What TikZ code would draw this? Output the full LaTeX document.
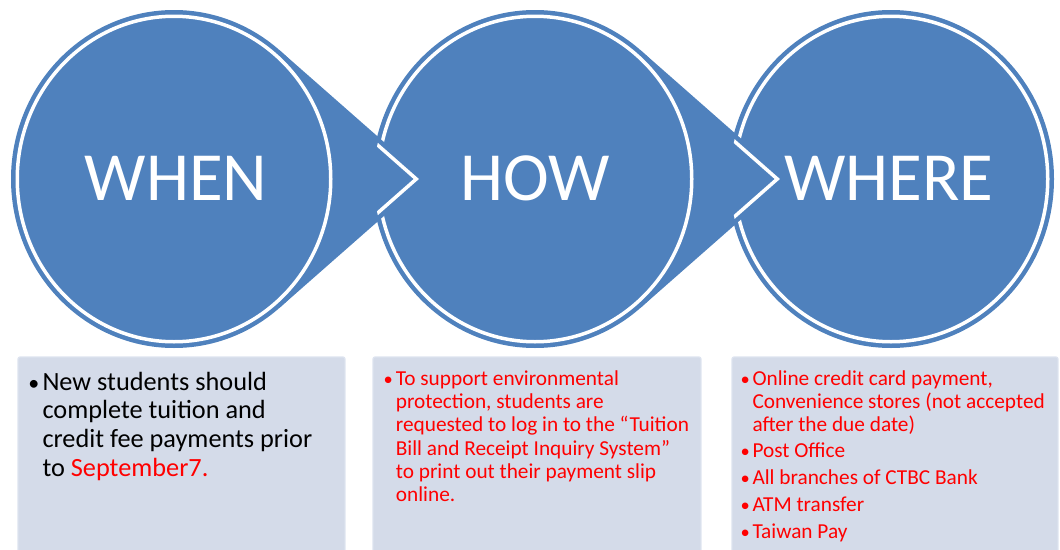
\documentclass[tikz,border=0pt]{standalone}
\usepackage{fontspec}
\setmainfont{Carlito}
\definecolor{cblue}{HTML}{4F81BD}
\definecolor{boxfill}{HTML}{D4DBE9}
\definecolor{boxedge}{HTML}{DDE3EF}
\definecolor{tred}{HTML}{FF0000}
\begin{document}
\begin{tikzpicture}[x=1pt,y=-1pt,
  disc/.style={fill=cblue},
  ring/.style={draw=white,line width=3.5pt},
  chev/.style={draw=white,line width=3.5pt,miter limit=10},
  wedgefill/.style={fill=cblue},
  panel/.style={fill=boxfill},
  paneledge/.style={draw=boxedge,line width=1.2pt,rounded corners=2pt},
  big/.style={text=white,font=\fontsize{69}{80}\selectfont,inner sep=0pt,anchor=base},
  txtA/.style={font=\fontsize{26.3}{30}\selectfont,inner sep=0pt,anchor=base west},
  bulA/.style={font=\fontsize{22}{26}\selectfont,inner sep=0pt,anchor=base east},
  txtB/.style={font=\fontsize{21.3}{25}\selectfont,inner sep=0pt,anchor=base west,text=tred},
  bulB/.style={font=\fontsize{18.5}{22}\selectfont,inner sep=0pt,anchor=base east,text=tred},
]
\useasboundingbox (0,0) rectangle (1060,549);
\clip (0,0) rectangle (1060,549);

\coordinate (c1) at (174,179);
\coordinate (c2) at (535,179);
\coordinate (c3) at (891,179);

% circle 3
\fill[disc] (c3) ellipse [x radius=163pt, y radius=169pt];
\draw[ring] (c3) ellipse [x radius=156.75pt, y radius=162.75pt];

% wedge of circle 2
\fill[wedgefill] (640.4,50.1) -- (787,179) -- (640.4,307.9) -- cycle;
\begin{scope}
  \clip (c3) ellipse [x radius=161pt, y radius=167pt];
  \draw[chev] (636.4,55.1) -- (777.3,179) -- (636.4,302.9);
\end{scope}

% circle 2
\fill[disc] (c2) ellipse [x radius=163pt, y radius=169pt];
\draw[ring] (c2) ellipse [x radius=156.75pt, y radius=162.75pt];

% wedge of circle 1
\fill[wedgefill] (279.4,50.1) -- (426,179) -- (279.4,307.9) -- cycle;
\begin{scope}
  \clip (c2) ellipse [x radius=161pt, y radius=167pt];
  \draw[chev] (275.4,55.1) -- (416.3,179) -- (275.4,302.9);
\end{scope}

% circle 1
\fill[disc] (c1) ellipse [x radius=163pt, y radius=169pt];
\draw[ring] (c1) ellipse [x radius=156.75pt, y radius=162.75pt];

% circle labels
\node[big] (when) at (176,200) {WHEN};
\node[big] (how) at (535,200) {HOW};
\node[big] (where) at (889,200) {WHERE};

% panels
\fill[panel] (18,357) rectangle (345,560);
\fill[panel] (373,357) rectangle (701,560);
\fill[panel] (732,357) rectangle (1058,560);
\draw[paneledge] (18,560) -- (18,357) -- (345,357) -- (345,560);
\draw[paneledge] (373,560) -- (373,357) -- (701,357) -- (701,560);
\draw[paneledge] (732,560) -- (732,357) -- (1058,357) -- (1058,560);

% panel 1 text
\node[bulA] (p1b) at (39.5,390) {•};
\node[txtA] (p1l1) at (42.3,390) {New students should};
\node[txtA] (p1l2) at (42.3,418.7) {complete tuition and};
\node[txtA] (p1l3) at (42.3,447.3) {credit fee payments prior};
\node[txtA] (p1l4) at (42.3,476) {to \textcolor{tred}{September7.}};

% panel 2 text
\node[bulB] (p2b) at (393,385) {•};
\node[txtB] (p2l1) at (395.7,385) {To support environmental};
\node[txtB] (p2l2) at (395.7,408.3) {protection, students are};
\node[txtB] (p2l3) at (395.7,431.7) {requested to log in to the “Tuition};
\node[txtB] (p2l4) at (395.7,455) {Bill and Receipt Inquiry System”};
\node[txtB] (p2l5) at (395.7,478.3) {to print out their payment slip};
\node[txtB] (p2l6) at (395.7,501.7) {online.};

% panel 3 text
\node[bulB] (p3b1) at (750,385) {•};
\node[txtB] (p3l1) at (752.3,385) {Online credit card payment,};
\node[txtB] (p3l2) at (752.3,408) {Convenience stores (not accepted};
\node[txtB] (p3l3) at (752.3,431) {after the due date)};
\node[bulB] (p3b2) at (750,457) {•};
\node[txtB] (p3l4) at (752.3,457) {Post Office};
\node[bulB] (p3b3) at (750,484) {•};
\node[txtB] (p3l5) at (752.3,484) {All branches of CTBC Bank};
\node[bulB] (p3b4) at (750,511) {•};
\node[txtB] (p3l6) at (752.3,511) {ATM transfer};
\node[bulB] (p3b5) at (750,538) {•};
\node[txtB] (p3l7) at (752.3,538) {Taiwan Pay};
\end{tikzpicture}
\end{document}
